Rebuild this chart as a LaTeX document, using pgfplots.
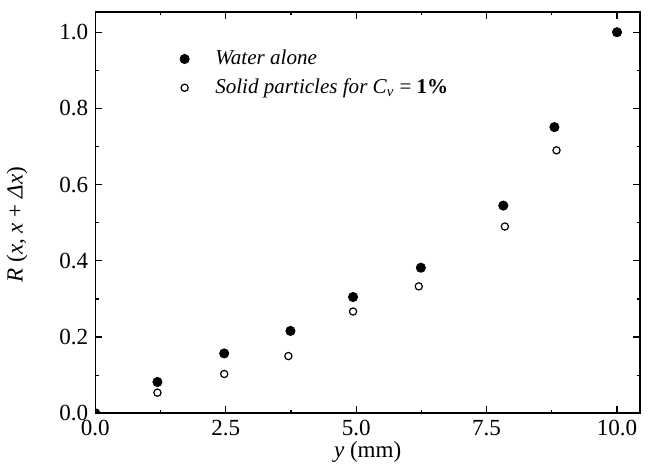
\documentclass[border=0pt]{standalone}
\usepackage{fontspec}
\setmainfont{Liberation Serif}
\usepackage{pgfplots}
\pgfplotsset{compat=1.18}

\begin{document}
\begin{tikzpicture}
\begin{axis}[
  name=main,
  scale only axis,
  width=271.5pt, height=200pt,
  xmin=0, xmax=10.44, ymin=0, ymax=1.053,
  clip marker paths=true,
  xtick={0,2.5,5,7.5,10}, minor xtick={1.25,3.75,6.25,8.75},
  ytick={0,0.2,0.4,0.6,0.8,1.0}, minor ytick={0.1,0.3,0.5,0.7,0.9},
  tick align=inside, tick pos=both,
  major tick length=3.5pt, minor tick length=1.6pt,
  axis line style={line width=0.75pt},
  every tick/.style={black, line width=0.6pt},
  /pgf/number format/assume math mode=true,
  xticklabel style={/pgf/number format/.cd, fixed, fixed zerofill, precision=1},
  yticklabel style={/pgf/number format/.cd, fixed, fixed zerofill, precision=1},
  tick label style={font=\fontsize{11.5}{13}\selectfont},
  label style={font=\fontsize{11.5}{13}\selectfont},
  xlabel={\textit{y} (mm)},
  ylabel={\textit{R} (\textit{x}, \textit{x} + \textit{Δx})},
  xlabel style={yshift=4pt},
  ylabel style={yshift=9pt, xshift=-6pt},
  legend style={draw=none, fill=none, at={(axis cs:1.5,0.975)}, anchor=north west,
    font=\fontsize{10.5}{12}\selectfont\itshape, row sep=1.5pt},
  legend cell align=left,
]
\addplot[only marks, mark=*, mark size=2.3pt, mark options={fill=black, draw=black}]
  coordinates {(0,0) (1.19,0.082) (2.47,0.157) (3.74,0.216) (4.94,0.305)
  (6.24,0.382) (7.82,0.545) (8.80,0.751) (10.0,1.0)};
\addlegendentry{\hspace*{11pt}Water alone\hspace{4em}}
\addplot[only marks, mark=o, mark size=1.8pt, mark options={draw=black, line width=0.6pt}]
  coordinates {(0,0) (1.19,0.054) (2.47,0.103) (3.70,0.150) (4.94,0.267)
  (6.20,0.333) (7.85,0.490) (8.84,0.690)};
\addlegendentry{\hspace*{11pt}Solid particles for C\textsubscript{\textit{v}} \upshape= \textbf{1\%}}
\end{axis}
\path (main.north east) ++(4pt,6pt);
\end{tikzpicture}
\end{document}
